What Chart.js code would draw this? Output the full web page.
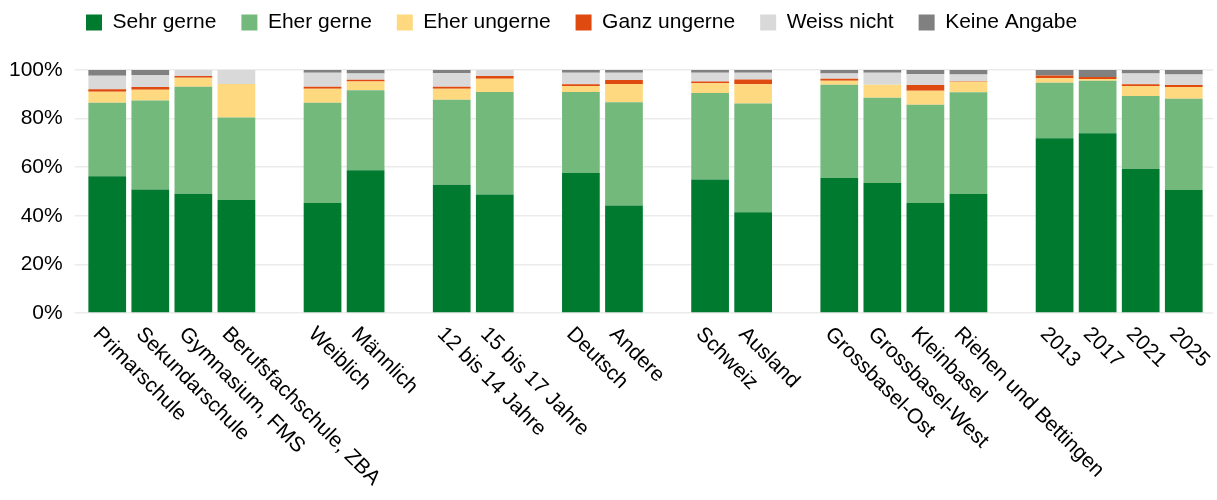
<!DOCTYPE html>
<html>
<head>
<meta charset="utf-8">
<script src="https://cdn.jsdelivr.net/npm/chart.js@4"></script>
<style>
  html, body { margin: 0; padding: 0; background: #fff; }
  #wrap { width: 1217px; height: 500px; }
</style>
</head>
<body>
<div id="wrap"><canvas id="myChart" width="1217" height="500"></canvas></div>
<script>
// categories (empty strings are the gaps between groups)
var categories = ["Primarschule", "Sekundarschule", "Gymnasium, FMS", "Berufsfachschule, ZBA", "",
  "Weiblich", "Männlich", "",
  "12 bis 14 Jahre", "15 bis 17 Jahre", "",
  "Deutsch", "Andere", "",
  "Schweiz", "Ausland", "",
  "Grossbasel-Ost", "Grossbasel-West", "Kleinbasel", "Riehen und Bettingen", "",
  "2013", "2017", "2021", "2025"];

var sehrGerne   = [56.3, 50.8, 49.1, 46.5, null, 45.3, 58.7, null, 52.8, 48.8, null, 57.6, 44.2, null, 54.9, 41.5, null, 55.6, 53.5, 45.3, 49.0, null, 71.9, 74.0, 59.3, 50.6];
var eherGerne   = [30.2, 36.7, 44.0, 34.0, null, 41.2, 33.0, null, 35.0, 42.1, null, 33.3, 42.5, null, 35.6, 44.7, null, 38.3, 35.1, 40.4, 41.8, null, 22.9, 21.6, 30.0, 37.6];
var eherUngerne = [4.6, 4.4, 3.7, 13.7, null, 5.8, 3.6, null, 4.5, 5.5, null, 2.5, 7.5, null, 4.0, 7.9, null, 1.7, 5.3, 5.8, 4.4, null, 1.8, 0.7, 4.1, 4.8];
var ganzUngerne = [1.0, 1.1, 0.7, 0, null, 0.8, 0.7, null, 0.8, 1.1, null, 0.7, 1.7, null, 0.8, 2.0, null, 0.8, 0, 2.3, 0.2, null, 1.1, 0.8, 0.7, 0.8];
var weissNicht  = [5.5, 4.9, 2.5, 5.8, null, 5.8, 2.6, null, 5.7, 2.5, null, 4.8, 3.0, null, 3.6, 2.8, null, 2.2, 5.0, 4.4, 2.7, null, 0, 0, 4.5, 4.3];
var keineAngabe = [2.5, 2.1, 0, 0, null, 1.1, 1.4, null, 1.2, 0, null, 1.1, 1.1, null, 1.1, 1.1, null, 1.4, 1.1, 1.8, 2.1, null, 2.3, 2.9, 1.4, 1.9];

var yTicks = [0, 20, 40, 60, 80, 100];

var FONT = "'Liberation Sans', Arial, sans-serif";

var tweaks = {
  id: "tweaks",
  // legend starts where the reference puts it
  afterLayout: function (chart) {
    chart.legend.left = 61;
  },
  // gridlines run a little past the right end of the plot
  beforeDatasetsDraw: function (chart) {
    var ctx = chart.ctx;
    var ys = chart.scales.y;
    var right = chart.chartArea.right;
    ctx.save();
    ctx.strokeStyle = "#ebebeb";
    ctx.lineWidth = 1.5;
    yTicks.forEach(function (t) {
      var y = ys.getPixelForValue(t);
      ctx.beginPath();
      ctx.moveTo(right, y);
      ctx.lineTo(right + 8, y);
      ctx.stroke();
    });
    ctx.restore();
  },
  // x labels rotated 45° clockwise, starting at the tick
  afterDraw: function (chart) {
    var ctx = chart.ctx;
    var xs = chart.scales.x;
    var bottom = chart.chartArea.bottom;
    ctx.save();
    ctx.font = "21px " + FONT;
    ctx.fillStyle = "#000";
    ctx.textAlign = "left";
    ctx.textBaseline = "middle";
    categories.forEach(function (c, i) {
      if (!c) return;
      var x = xs.getPixelForValue(i);
      ctx.save();
      ctx.translate(x - 11, bottom + 18);
      ctx.rotate(Math.PI / 4);
      ctx.fillText(c, 0, 0);
      ctx.restore();
    });
    ctx.restore();
  }
};

var ctx = document.getElementById("myChart").getContext("2d");
var chart = new Chart(ctx, {
  type: "bar",
  data: {
    labels: categories,
    datasets: [
      { label: "Sehr gerne", data: sehrGerne, backgroundColor: "#007a2f" },
      { label: "Eher gerne", data: eherGerne, backgroundColor: "#74b97c" },
      { label: "Eher ungerne", data: eherUngerne, backgroundColor: "#ffd97f" },
      { label: "Ganz ungerne", data: ganzUngerne, backgroundColor: "#de4a10" },
      { label: "Weiss nicht", data: weissNicht, backgroundColor: "#d9d9d9" },
      { label: "Keine Angabe", data: keineAngabe, backgroundColor: "#808080" }
    ]
  },
  options: {
    responsive: false,
    animation: false,
    datasets: {
      bar: { categoryPercentage: 1.0, barPercentage: 0.876, borderWidth: 0 }
    },
    layout: { padding: { left: 4, right: 11.7, top: -13, bottom: 179 } },
    plugins: {
      tooltip: { enabled: false },
      // blank spacer between legend and plot
      title: { display: true, text: " ", weight: 500, font: { size: 10 }, padding: { top: 0, bottom: 15 } },
      legend: {
        position: "top",
        align: "start",
        labels: {
          boxWidth: 16,
          boxHeight: 16,
          padding: 25,
          color: "#000",
          font: { family: FONT, size: 21 }
        }
      }
    },
    scales: {
      x: {
        stacked: true,
        grid: { display: false },
        border: { display: false },
        ticks: { display: false }
      },
      y: {
        stacked: true,
        min: 0,
        max: 100,
        afterFit: function (scale) { scale.width = 81.7; },
        afterBuildTicks: function (scale) {
          scale.ticks = yTicks.map(function (v) { return { value: v }; });
        },
        grid: { color: "#ebebeb", lineWidth: 1.5, tickLength: 11, drawTicks: true, tickColor: "#ebebeb" },
        border: { display: false },
        ticks: {
          padding: 12,
          color: "#000",
          font: { family: FONT, size: 21 },
          callback: function (v) { return v + "%"; }
        }
      }
    }
  },
  plugins: [tweaks]
});
</script>
</body>
</html>
